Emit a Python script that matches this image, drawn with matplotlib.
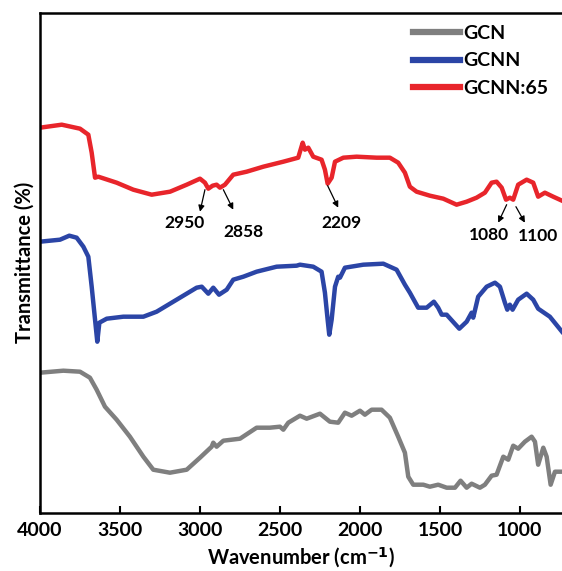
import matplotlib
matplotlib.use("Agg")
import matplotlib.pyplot as plt

plt.rcParams['font.family'] = ['Lato', 'DejaVu Sans']
plt.rcParams['font.weight'] = 'bold'

# FTIR spectra (wavenumber in cm-1, transmittance in arbitrary offset units)
gcn_wn = [4000, 3854, 3750, 3688, 3646, 3594, 3521, 3438, 3354, 3292, 3188, 3083,
          3000, 2927, 2917, 2896, 2854, 2750, 2646, 2563, 2500, 2479, 2448, 2375,
          2333, 2250, 2188, 2136, 2094, 2052, 2000, 1969, 1927, 1865, 1813, 1761,
          1719, 1698, 1667, 1604, 1563, 1511, 1458, 1406, 1371, 1333, 1302, 1250,
          1219, 1177, 1146, 1104, 1073, 1042, 1011, 969, 927, 906, 886, 854, 833,
          808, 781, 737]
gcn_t = [140, 142, 141, 135, 123, 106, 93, 76, 56, 43, 40, 43,
         55, 66, 70, 66, 72, 74, 85, 85, 86, 83, 90, 97,
         94, 99, 91, 90, 100, 97, 102, 98, 103, 103, 95, 76,
         60, 36, 28, 28, 26, 28, 25, 25, 32, 25, 29, 25,
         28, 37, 38, 56, 53, 67, 64, 71, 76, 71, 48, 65, 56,
         28, 41, 41]

gcnn_wn = [4000, 3875, 3817, 3771, 3729, 3698, 3677, 3656, 3642, 3629, 3583, 3479,
           3354, 3271, 3146, 3021, 2989, 2948, 2917, 2881, 2833, 2792, 2729, 2646,
           2521, 2396, 2375, 2292, 2240, 2219, 2202, 2192, 2177, 2156, 2136, 2125,
           2094, 1979, 1854, 1771, 1719, 1688, 1636, 1583, 1538, 1511, 1489, 1458,
           1379, 1333, 1302, 1292, 1261, 1208, 1156, 1125, 1094, 1079, 1063, 1046,
           1011, 958, 917, 886, 813, 737]
gcnn_t = [271, 273, 277, 275, 266, 256, 226, 193, 171, 190, 194, 196,
          196, 201, 213, 225, 226, 219, 225, 218, 223, 233, 236, 241,
          246, 247, 248, 246, 241, 220, 193, 178, 193, 226, 236, 235,
          245, 248, 249, 243, 228, 220, 205, 205, 211, 205, 198, 198,
          184, 191, 200, 195, 216, 226, 230, 226, 210, 203, 208, 203,
          213, 219, 213, 204, 196, 181]

gcnn65_wn = [4000, 3864, 3750, 3698, 3677, 3656, 3636, 3521, 3417, 3302, 3187, 3083,
             3000, 2969, 2948, 2921, 2896, 2875, 2844, 2792, 2708, 2604, 2479, 2386,
             2358, 2344, 2323, 2292, 2240, 2219, 2202, 2177, 2156, 2104, 2021, 1896,
             1813, 1761, 1719, 1688, 1646, 1563, 1479, 1396, 1333, 1271, 1219, 1177,
             1146, 1114, 1087, 1063, 1042, 1011, 958, 917, 886, 844, 792, 737]
gcnn65_t = [385, 388, 384, 378, 360, 335, 336, 330, 323, 318, 321, 328,
            334, 330, 324, 327, 328, 325, 328, 338, 341, 346, 351, 355,
            370, 363, 365, 356, 353, 343, 329, 335, 351, 355, 356, 355,
            355, 350, 340, 326, 321, 317, 314, 308, 311, 315, 320, 330,
            331, 325, 313, 315, 313, 328, 333, 330, 316, 320, 316, 312]

# peak labels: text, text position, arrow start, arrow end
peak_labels = ['2950', '2858', '2209', '1080', '1100']
label_xy = [(3094, 290), (2729, 281), (2115, 290), (1194, 278), (886, 277)]
arrow_from = [(2969, 323), (2854, 323), (2202, 327), (1083, 308), (1025, 306)]
arrow_to = [(3000, 301), (2792, 303), (2136, 305), (1136, 290), (969, 290)]

fig = plt.figure(figsize=(5.62, 5.71), dpi=100)
ax = fig.add_axes([0.0712, 0.1021, 0.9288, 0.8757])

ax.plot(gcn_wn, gcn_t, color='#7f7f7f', lw=3.2, label='GCN',
        solid_joinstyle='round')
ax.plot(gcnn_wn, gcnn_t, color='#2b45a6', lw=3.2, label='GCNN',
        solid_joinstyle='round')
ax.plot(gcnn65_wn, gcnn65_t, color='#e8252b', lw=3.2, label='GCNN:65',
        solid_joinstyle='round')

for txt, xy, a, b in zip(peak_labels, label_xy, arrow_from, arrow_to):
    ax.annotate('', xy=b, xytext=a,
                arrowprops=dict(arrowstyle='-|>', color='black', lw=0.9,
                                mutation_scale=9, shrinkA=0, shrinkB=0))
    ax.text(xy[0], xy[1], txt, ha='center', va='center', fontsize=12.5,
            fontweight='bold')

ax.set_xlim(4000, 737)
ax.set_ylim(0, 500)
ax.set_xticks([4000, 3500, 3000, 2500, 2000, 1500, 1000])
ax.set_yticks([])
ax.tick_params(axis='x', labelsize=14, width=1.5, length=5, direction='in',
               pad=7)
for lab in ax.get_xticklabels():
    lab.set_fontweight('bold')
ax.spines['right'].set_visible(False)
for s in ['left', 'top', 'bottom']:
    ax.spines[s].set_linewidth(1.8)

ax.set_xlabel('Wavenumber (cm$^{\\mathbf{-1}}$)', fontsize=14.5, fontweight='bold',
              labelpad=4)
ax.set_ylabel('Transmittance (%)', fontsize=14.5, fontweight='bold', labelpad=4)

leg = ax.legend(loc='upper right', bbox_to_anchor=(1.0, 1.003), frameon=False,
                fontsize=14, handlelength=2.4, handletextpad=0.2,
                labelspacing=0.55, borderaxespad=0.3)
for line in leg.get_lines():
    line.set_linewidth(4.5)
for t in leg.get_texts():
    t.set_fontweight('bold')

fig.savefig('out.png', dpi=100)
